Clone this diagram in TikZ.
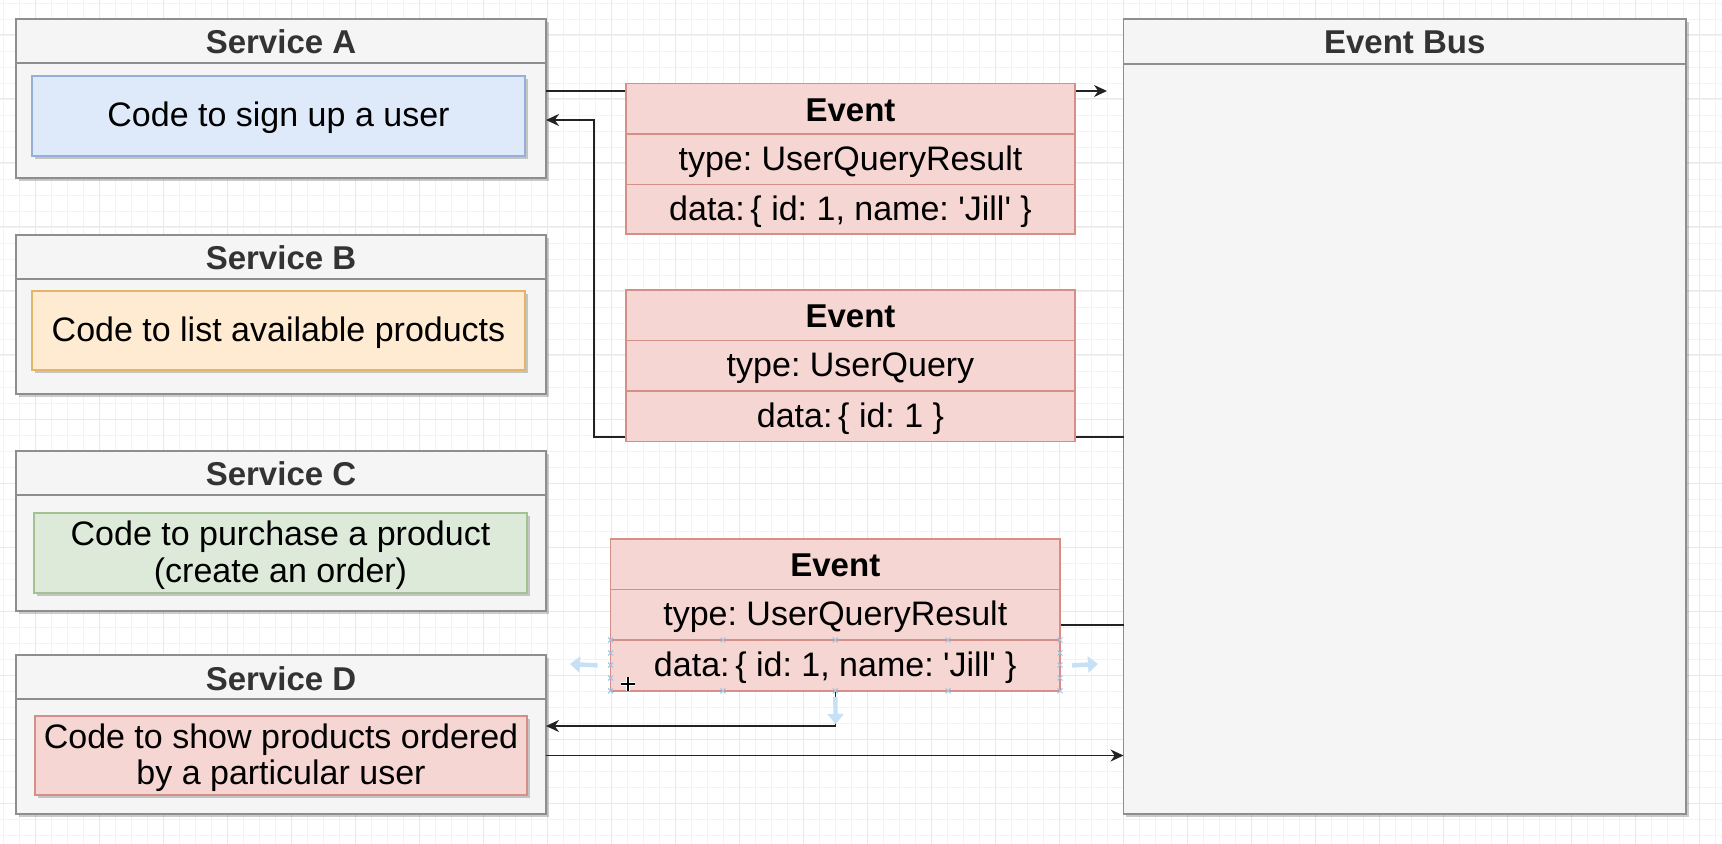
\documentclass[tikz,border=0pt]{standalone}
\usepackage{fontspec}
\setmainfont{Liberation Sans}
\usetikzlibrary{fit,shadows,arrows.meta}
\definecolor{gridminor}{HTML}{F3F3F3}
\definecolor{gridmajor}{HTML}{E9E9E9}
\definecolor{svcfill}{HTML}{F5F5F5}
\definecolor{svcline}{HTML}{8E8E8E}
\definecolor{hdrtext}{HTML}{333333}
\definecolor{bluefill}{HTML}{DEEAF9}
\definecolor{blueline}{HTML}{96AFD6}
\definecolor{orangefill}{HTML}{FFEBD2}
\definecolor{orangeline}{HTML}{E2B668}
\definecolor{greenfill}{HTML}{DDEADA}
\definecolor{greenline}{HTML}{A2C292}
\definecolor{redfill}{HTML}{F6D6D2}
\definecolor{redline}{HTML}{D49088}
\definecolor{selblue}{HTML}{C6E1F6}
\definecolor{handle}{HTML}{9CC4E8}
\definecolor{conncol}{HTML}{222222}
\frenchspacing
\newcommand{\sq}{\textquotesingle}
\begin{document}
\begin{tikzpicture}[x=0.5pt,y=-0.5pt,
  box/.style={inner sep=0pt, outer sep=0pt},
  shad/.style={drop shadow={shadow xshift=1.4pt, shadow yshift=-1.4pt, fill=black, opacity=0.2}},
  svc/.style={box, draw=svcline, fill=svcfill, line width=0.75pt},
  svchdr/.style={box, draw=svcline, line width=0.75pt},
  hdrtxt/.style={inner sep=0pt, yshift=-0.6pt, text=hdrtext, font=\bfseries\fontsize{16.5}{19}\selectfont},
  inner/.style={box, line width=0.75pt},
  bodytxt/.style={inner sep=0pt, yshift=-1pt, align=center, font=\fontsize{17}{18.2}\selectfont},
  evrow/.style={box, draw=redline, fill=redfill, line width=0.75pt},
  evhdrtxt/.style={inner sep=0pt, yshift=-0.6pt, font=\bfseries\fontsize{16.5}{19}\selectfont},
  conn/.style={draw=conncol, line width=0.7pt},
  arr/.style={conn, -{Stealth[length=6.5pt,width=6pt]}},
  hover/.style={draw=selblue, line width=2.2pt, -{Triangle[length=5pt,width=8pt]}},
  hcross/.style={draw=handle, line width=0.5pt}
]
\useasboundingbox (0,0) rectangle (1722,844);
\fill[white] (0,0) rectangle (1722,844);
% grid
\foreach \gx in {3,19,...,1722} {\draw[gridminor, line width=0.4pt] (\gx,0) -- (\gx,844);}
\foreach \gy in {3,19,...,844} {\draw[gridminor, line width=0.4pt] (0,\gy) -- (1722,\gy);}
\foreach \gx in {35,99,...,1722} {\draw[gridmajor, line width=0.5pt] (\gx,0) -- (\gx,844);}
\foreach \gy in {35,99,...,844} {\draw[gridmajor, line width=0.5pt] (0,\gy) -- (1722,\gy);}

% Service A
\node[svc, shad, fit={(16,19) (546,178)}] (sa) {};
\node[svchdr, fit={(16,19) (546,63)}] (saH) {};
\node[hdrtxt] (saHt) at (saH.center) {Service A};
\node[inner, shad, draw=blueline, fill=bluefill, fit={(32,76) (525,156)}] (saI) {};
\node[bodytxt] (saIt) at (saI.center) {Code to sign up a user};
% Service B
\node[svc, shad, fit={(16,235) (546,394)}] (sb) {};
\node[svchdr, fit={(16,235) (546,279)}] (sbH) {};
\node[hdrtxt] (sbHt) at (sbH.center) {Service B};
\node[inner, shad, draw=orangeline, fill=orangefill, fit={(32,291) (525,370)}] (sbI) {};
\node[bodytxt] (sbIt) at (sbI.center) {Code to list available products};
% Service C
\node[svc, shad, fit={(16,451) (546,611)}] (sc) {};
\node[svchdr, fit={(16,451) (546,495)}] (scH) {};
\node[hdrtxt] (scHt) at (scH.center) {Service C};
\node[inner, shad, draw=greenline, fill=greenfill, fit={(34,513) (527,593)}] (scI) {};
\node[bodytxt] (scIt) at (scI.center) {Code to purchase a product\\(create an order)};
% Service D
\node[svc, shad, fit={(16,655) (546,814)}] (sd) {};
\node[svchdr, fit={(16,655) (546,699)}] (sdH) {};
\node[hdrtxt] (sdHt) at (sdH.center) {Service D};
\node[inner, shad, draw=redline, fill=redfill, fit={(35,716) (527,795)}] (sdI) {};
\node[bodytxt] (sdIt) at (sdI.center) {Code to show products ordered\\by a particular user};

% Event Bus
\node[svc, shad, fit={(1123.5,19) (1686,814)}] (bus) {};
\node[svchdr, fit={(1123.5,19) (1686,64)}] (busH) {};
\node[hdrtxt] (busHt) at (busH.center) {Event Bus};

% connectors (behind events)
\coordinate (a1end) at (1107,91);
\draw[arr] (a1end -| sa.east) -- (a1end);
\coordinate (a2c) at (594,437);
\coordinate (saIn) at (546,120);
\draw[arr] (a2c -| bus.west) -- (a2c) |- (saIn);
\coordinate (a3) at (835.7,625);
\coordinate (sdIn) at (546,726);
\draw[arr] (a3 -| bus.west) -- (a3) |- (sdIn);
\coordinate (sdOut) at (546,755.5);
\draw[arr] (sdOut) -- (sdOut -| bus.west);

% Event 1
\node[evrow, fit={(626,83.5) (1075,134)}] (e1h) {};
\node[evhdrtxt] (e1ht) at (e1h.center) {Event};
\node[evrow, fit={(626,134) (1075,184.5)}] (e1t) {};
\node[bodytxt] (e1tt) at (e1t.center) {type: UserQueryResult};
\node[evrow, fit={(626,184.5) (1075,234)}] (e1d) {};
\node[bodytxt] (e1dt) at (e1d.center) {data:\,\{ id: 1, name: \sq Jill\sq\ \}};
% Event 2
\node[evrow, fit={(626,290) (1075,340.5)}] (e2h) {};
\node[evhdrtxt] (e2ht) at (e2h.center) {Event};
\node[evrow, fit={(626,340.5) (1075,391)}] (e2t) {};
\node[bodytxt] (e2tt) at (e2t.center) {type: UserQuery};
\node[evrow, fit={(626,391) (1075,441.5)}] (e2d) {};
\node[bodytxt] (e2dt) at (e2d.center) {data:\,\{ id: 1 \}};
% Event 3
\node[evrow, fit={(610.6,539) (1060,589.7)}] (e3h) {};
\node[evhdrtxt] (e3ht) at (e3h.center) {Event};
\node[evrow, fit={(610.6,589.7) (1060,640)}] (e3t) {};
\node[bodytxt] (e3tt) at (e3t.center) {type: UserQueryResult};
\node[evrow, fit={(610.6,640) (1060,690.8)}] (e3d) {};
\node[bodytxt] (e3dt) at (e3d.center) {data:\,\{ id: 1, name: \sq Jill\sq\ \}};

% selection handles on the data row of event 3
\foreach \hx/\hy in {610.6/640, 723/640, 835.3/640, 948/640, 1060/640,
                     610.6/690.8, 723/690.8, 835.3/690.8, 948/690.8, 1060/690.8,
                     610.6/653, 610.6/665, 610.6/678, 1060/653, 1060/665, 1060/678} {
  \draw[hcross] (\hx-2.5,\hy-2.5) -- (\hx+2.5,\hy+2.5) (\hx-2.5,\hy+2.5) -- (\hx+2.5,\hy-2.5);
}
% hover arrows
\coordinate (hl) at (570,664);
\coordinate (hr) at (1098,664);
\coordinate (hb) at (835.7,724);
\draw[hover] (e3d.west) ++(-13,0) -- (hl);
\draw[hover] (e3d.east) ++(12,0) -- (hr);
\draw[hover] (e3d.south) ++(0,6) -- (hb);
% cursor
\draw[white, line width=2.2pt] (621,684) -- (635,684) (628,677) -- (628,691);
\draw[black, line width=1pt] (621,684) -- (635,684) (628,677) -- (628,691);
\end{tikzpicture}
\end{document}
